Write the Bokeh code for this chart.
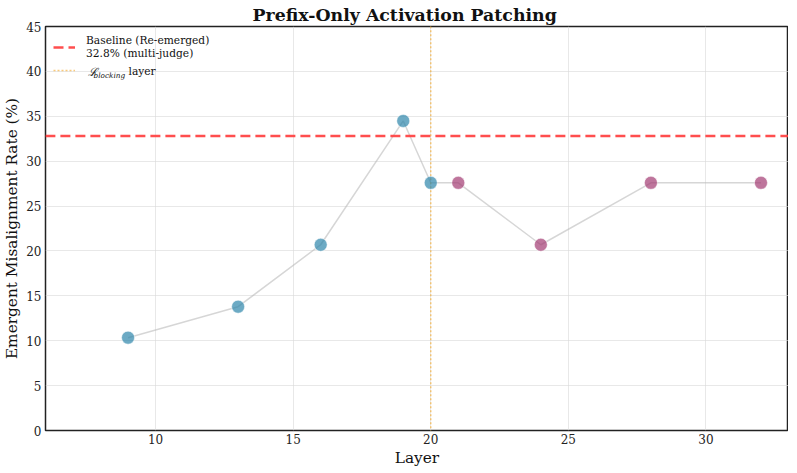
from bokeh.plotting import figure
from bokeh.models import Legend, LegendItem, Label, Range1d, FixedTicker
from bokeh.embed import file_html
from bokeh.resources import INLINE

layers_pre = [9, 13, 16, 19, 20]
rates_pre = [10.34, 13.79, 20.69, 34.48, 27.59]
layers_post = [21, 24, 28, 32]
rates_post = [27.59, 20.69, 27.59, 27.59]
baseline = 32.8
blocking_layer = 20
x_ticks = [10, 15, 20, 25, 30]
y_ticks = [0, 5, 10, 15, 20, 25, 30, 35, 40, 45]

FONT = "DejaVu Serif"

p = figure(frame_width=743, frame_height=404, output_backend="svg", toolbar_location=None,
           x_range=Range1d(6, 33), y_range=Range1d(0, 45),
           min_border_left=38, min_border_right=0, min_border_top=20, min_border_bottom=30)
p.title.text = "Prefix-Only Activation Patching"
p.title.text_font = FONT
p.title.text_font_size = "13pt"
p.title.text_font_style = "bold"
p.title.align = "left"
p.title.offset = 207
p.title.text_color = "#111111"
p.title.standoff = 4

p.xaxis.ticker = FixedTicker(ticks=x_ticks)
p.yaxis.ticker = FixedTicker(ticks=y_ticks)
for ax in (p.xaxis, p.yaxis):
    ax.axis_label_text_font = FONT
    ax.axis_label_text_font_size = "11.5pt"
    ax.axis_label_text_font_style = "normal"
    ax.major_label_text_font = FONT
    ax.major_label_text_font_size = "9pt"
    ax.major_label_text_color = "#222222"
    ax.axis_label_text_color = "#111111"
    ax.major_tick_line_color = None
    ax.minor_tick_line_color = None
    ax.major_tick_out = 0
    ax.major_tick_in = 0
    ax.axis_line_color = None
    ax.axis_label_standoff = 2
    ax.major_label_standoff = 4
p.xaxis.major_label_standoff = 3
p.xaxis.axis_label = "Layer"
p.yaxis.axis_label = "Emergent Misalignment Rate (%)"
p.outline_line_color = "#222222"
p.outline_line_width = 1.5
p.grid.grid_line_color = "#d8d8d8"
p.grid.grid_line_alpha = 0.6
p.background_fill_color = "white"

all_x = layers_pre + layers_post
all_y = rates_pre + rates_post
p.line(all_x, all_y, line_color="#bbbbbb", line_width=1.5, line_alpha=0.6)

base_r = p.line([0, 40], [baseline, baseline], line_color="#FF4444", line_width=2.5,
                line_dash="10 5", line_alpha=0.95)
block_r = p.line([blocking_layer, blocking_layer], [-10, 60], line_color="#F5A623",
                 line_width=1.5, line_dash="2 2", line_alpha=0.6)

p.scatter(layers_pre, rates_pre, size=13, fill_color="#2E86AB", fill_alpha=0.7,
          line_color="white", line_width=1, line_alpha=0.5)
p.scatter(layers_post, rates_post, size=13, fill_color="#A23B72", fill_alpha=0.7,
          line_color="white", line_width=1, line_alpha=0.5)

legend = Legend(items=[
    LegendItem(label="Baseline (Re-emerged)\n32.8% (multi-judge)", renderers=[base_r]),
    LegendItem(label=" ", renderers=[block_r]),
], location="top_left")
legend.label_text_font = FONT
legend.label_text_font_size = "8pt"
legend.label_text_color = "#111111"
legend.border_line_color = None
legend.background_fill_alpha = 0.0
legend.glyph_width = 22
legend.label_standoff = 11
legend.spacing = 0
legend.margin = 8
legend.padding = 0
p.add_layout(legend)

lab_kw = dict(x_units="screen", y_units="screen", text_font=FONT, text_color="#111111",
              text_baseline="middle")
p.add_layout(Label(x=42, y=359, text="ℒ", text_font_size="8.5pt", text_font_style="italic", **lab_kw))
p.add_layout(Label(x=48, y=355, text="blocking", text_font_size="5.5pt", text_font_style="italic", **lab_kw))
p.add_layout(Label(x=83, y=359, text="layer", text_font_size="8pt", **lab_kw))

open("out.html", "w").write(file_html(p, INLINE))
